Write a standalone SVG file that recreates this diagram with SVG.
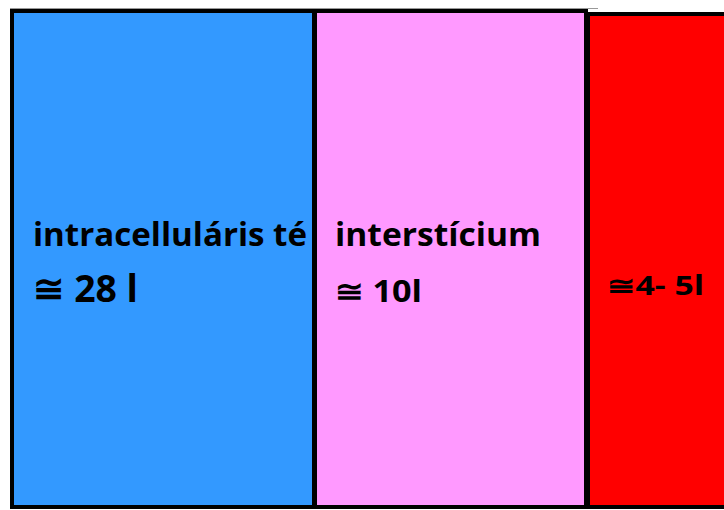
<svg xmlns="http://www.w3.org/2000/svg" width="724" height="510" viewBox="0 0 724 510">
<style>
.box{stroke:#000;stroke-width:4}
.t{font-family:"Open Sans",Lato,sans-serif;font-weight:bold;fill:#000}
</style>
<rect width="724" height="510" fill="#fff"/>
<line x1="10" y1="8.5" x2="598" y2="8.5" stroke="#999" stroke-width="1"/>
<g id="intracellular">
<rect class="box" x="12" y="11" width="302" height="496" fill="#3399FF"/>
<text class="t" x="33" y="246" font-size="33" textLength="274" lengthAdjust="spacingAndGlyphs">intracelluláris té</text>
<text class="t" x="33" y="302" font-size="38" textLength="105" lengthAdjust="spacingAndGlyphs">≅ 28 l</text>
</g>
<g id="interstitium">
<rect class="box" x="315" y="11" width="271" height="496" fill="#FF99FF"/>
<text class="t" x="335" y="246" font-size="32" textLength="206" lengthAdjust="spacingAndGlyphs">interstícium</text>
<text class="t" x="335" y="302" font-size="30" textLength="87" lengthAdjust="spacingAndGlyphs">≅ 10l</text>
</g>
<g id="plasma">
<rect class="box" x="588" y="14" width="140" height="493" fill="#FF0000"/>
<text class="t" x="607" y="295" font-size="26" textLength="97" lengthAdjust="spacingAndGlyphs">≅4- 5l</text>
</g>
<g id="connectors"/>
</svg>
